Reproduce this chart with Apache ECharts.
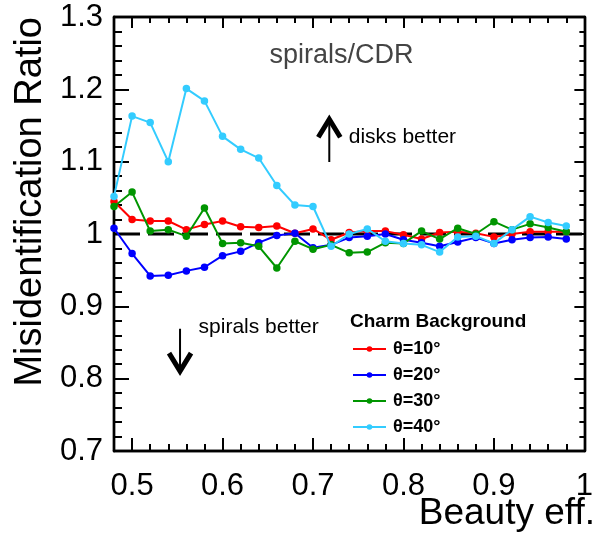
<!DOCTYPE html>
<html><head><meta charset="utf-8">
<script src="https://cdn.jsdelivr.net/npm/echarts@6/dist/echarts.min.js"></script>
<style>html,body{margin:0;padding:0;background:#fff}#c{width:596px;height:535px}</style>
</head><body><div id="c"></div>
<script>
const beautyEff = [0.48,0.50,0.52,0.54,0.56,0.58,0.60,0.62,0.64,0.66,0.68,0.70,0.72,0.74,0.76,0.78,0.80,0.82,0.84,0.86,0.88,0.90,0.92,0.94,0.96,0.98];
const theta10 = [1.045,1.020,1.018,1.018,1.006,1.013,1.018,1.010,1.009,1.011,1.001,1.007,0.992,1.002,1.004,1.004,0.999,0.993,1.002,1.003,1.001,0.996,1.000,1.003,1.003,1.003];
const theta20 = [1.008,0.973,0.942,0.943,0.949,0.954,0.970,0.976,0.988,0.998,1.001,0.981,0.985,0.995,0.997,1.000,0.992,0.988,0.983,0.989,0.995,0.987,0.992,0.995,0.996,0.993];
const theta30 = [1.038,1.058,1.004,1.006,0.997,1.036,0.987,0.988,0.983,0.953,0.990,0.979,0.985,0.974,0.975,0.988,0.987,1.004,0.993,1.008,1.000,1.017,1.006,1.014,1.009,1.003];
const theta40 = [1.052,1.163,1.154,1.100,1.201,1.184,1.135,1.117,1.105,1.067,1.040,1.038,0.983,1.000,1.007,0.990,0.987,0.985,0.975,0.996,0.997,0.987,1.006,1.024,1.016,1.011];
const seriesNames = ['θ=10°','θ=20°','θ=30°','θ=40°'];
const seriesColors = ['#ff0000','#0000ff','#009500','#33ccff'];
const xTicks = [0.5,0.6,0.7,0.8,0.9,1.0];
const yTicks = [0.7,0.8,0.9,1.0,1.1,1.2,1.3];
const xRange = [0.48, 1.0];
const yRange = [0.7, 1.3];
const refLine = [[0.48,1.0],[1.008,1.0]];

const FONT = '"Liberation Sans", Arial, Helvetica, sans-serif';
const chart = echarts.init(document.getElementById('c'), null, {renderer:'canvas'});
const blk = {color:'#000', width:2.4};

function xAx(pos, len, custom, label){
  const a = {type:'value', position:pos, min:xRange[0], max:xRange[1], gridIndex:0,
    axisLine:{show:true, onZero:false, lineStyle:blk},
    axisTick:{show:true, inside:true, length:len, lineStyle:{color:'#000', width:2}},
    axisLabel:{show:false}, splitLine:{show:false}};
  if (custom) a.axisTick.customValues = xTicks; else a.interval = 0.02;
  if (label) a.axisLabel = {show:true, customValues:xTicks, fontSize:31, color:'#000', fontFamily:FONT, margin:20};
  return a;
}
function yAx(pos, len, custom, label){
  const a = {type:'value', position:pos, min:yRange[0], max:yRange[1], gridIndex:0,
    axisLine:{show:true, onZero:false, lineStyle:blk},
    axisTick:{show:true, inside:true, length:len, lineStyle:{color:'#000', width:2}},
    axisLabel:{show:false}, splitLine:{show:false}};
  if (custom) a.axisTick.customValues = yTicks; else a.interval = 0.02;
  if (label) a.axisLabel = {show:true, customValues:yTicks, fontSize:31, color:'#000', fontFamily:FONT, margin:11};
  return a;
}

const dataSets = [theta10, theta20, theta30, theta40];
const series = [{
  type:'line', data:refLine, clip:false, symbol:'none', silent:true,
  lineStyle:{color:'#000', width:3, type:[26,8]}, z:1
}];
dataSets.forEach((d,i)=>{
  series.push({
    name:seriesNames[i], type:'line', xAxisIndex:0, yAxisIndex:0,
    data: beautyEff.map((x,j)=>[x,d[j]]),
    symbol:'circle', symbolSize:7.5, color:seriesColors[i],
    lineStyle:{width:2, color:seriesColors[i]}, itemStyle:{color:seriesColors[i]},
    z:2+i, animation:false
  });
});

chart.setOption({
  animation:false,
  backgroundColor:'#fff',
  grid:{left:114, right:6, top:17, bottom:84, containLabel:false},
  xAxis:[xAx('bottom',7,false,true), xAx('bottom',13,true,false), xAx('top',6,false,false), xAx('top',11,true,false)],
  yAxis:[yAx('left',8,false,true), yAx('left',15,true,false), yAx('right',5,false,false), yAx('right',10,true,false)],
  legend:{data:seriesNames, orient:'vertical', left:352, top:340, itemWidth:33, itemHeight:7, itemGap:8, padding:0,
    textStyle:{fontSize:18, fontWeight:'bold', color:'#000', fontFamily:FONT, padding:[0,0,0,2]}},
  series: series
});

// annotations in data coordinates
const upArrow = {x:0.718, from:1.0995, to:1.160};
const downArrow = {x:0.553, from:0.869, to:0.809};
const P = (x,y)=>chart.convertToPixel({xAxisIndex:0, yAxisIndex:0},[x,y]);
function arrow(a, dir){
  const s = P(a.x, a.from), t = P(a.x, a.to);
  const tip = t[1], cx = t[0];
  const back = dir>0 ? tip+19 : tip-19;
  return [
    {type:'line', shape:{x1:cx, y1:s[1], x2:cx, y2:tip}, style:{stroke:'#000', lineWidth:2}},
    {type:'polyline', shape:{points:[[cx-11,back],[cx,tip+(dir>0?1:-1)],[cx+11,back]]}, style:{stroke:'#000', lineWidth:5, fill:null, lineJoin:'miter'}}
  ];
}
const upTxt = P(0.7395, 1.1335);
const dnTxt = P(0.5735, 0.8715);
const cdr = P(0.652, 1.247);
chart.setOption({graphic:[
  ...arrow(upArrow, 1), ...arrow(downArrow, -1),
  {type:'text', x:upTxt[0], y:upTxt[1], style:{text:'disks better', fontSize:21, fill:'#000', fontFamily:FONT, align:'left', verticalAlign:'middle'}},
  {type:'text', x:dnTxt[0], y:dnTxt[1], style:{text:'spirals better', fontSize:21, fill:'#000', fontFamily:FONT, align:'left', verticalAlign:'middle'}},
  {type:'text', x:cdr[0], y:cdr[1], style:{text:'spirals/CDR', fontSize:27, fill:'#444', fontFamily:FONT, align:'left', verticalAlign:'middle'}},
  {type:'text', x:350, y:322, style:{text:'Charm Background', fontSize:19, fontWeight:'bold', fill:'#000', fontFamily:FONT, align:'left', verticalAlign:'middle'}},
  {type:'text', x:31, y:17, rotation:Math.PI/2, style:{text:'Misidentification Ratio', fontSize:38, fill:'#000', fontFamily:FONT, align:'right', verticalAlign:'middle'}},
  {type:'text', x:595, y:514, style:{text:'Beauty eff.', fontSize:37, fill:'#000', fontFamily:FONT, align:'right', verticalAlign:'middle'}}
]});
</script></body></html>
